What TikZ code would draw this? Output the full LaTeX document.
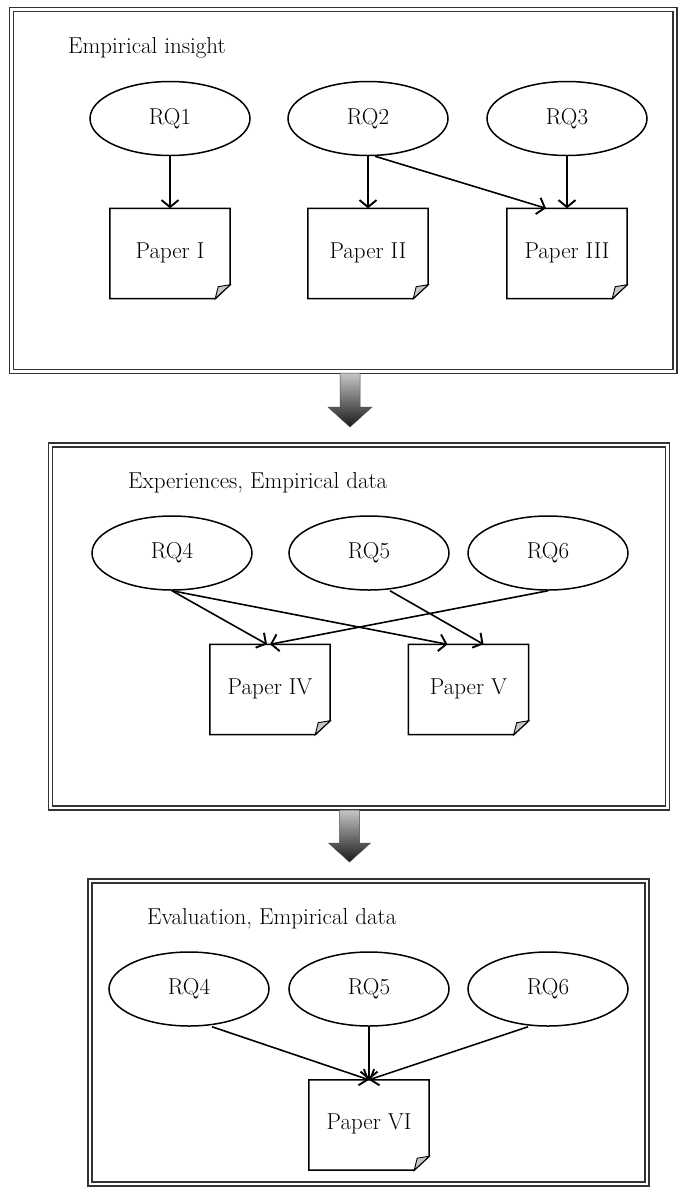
\documentclass[tikz,border=0pt]{standalone}
\usetikzlibrary{arrows.meta,shapes.geometric}

\tikzset{
  frame/.style={draw=black!80, line width=1.4pt, double, double distance=2.6pt},
  rq/.style={ellipse, draw, line width=1.5pt, minimum width=160pt, minimum height=74pt,
    inner sep=0pt, font=\fontsize{23}{27}\selectfont},
  paper/.style={rectangle, minimum width=120pt, minimum height=90pt, inner sep=0pt,
    font=\fontsize{23}{27}\selectfont},
  paperline/.style={line width=1.5pt},
  fold/.style={fill=gray!45, line width=0.9pt},
  link/.style={line width=1.6pt, -{Straight Barb[length=7pt,width=17pt,line width=1.9pt]}},
  title/.style={anchor=base west, inner sep=0pt, font=\fontsize{23}{27}\selectfont},
  blockarrow/.style={draw=black!70, line width=0.5pt, top color=gray!45, bottom color=black!90}
}

% outline of a paper with the folded corner
\newcommand{\drawpaper}[1]{%
  \draw[paperline] (#1.north west) -- (#1.north east) -- ([yshift=14pt]#1.south east)
    -- ([xshift=-15pt]#1.south east) -- (#1.south west) -- cycle;
  \filldraw[fold] ([xshift=-15pt]#1.south east) -- ([yshift=14pt]#1.south east)
    -- ([xshift=-12pt,yshift=12pt]#1.south east) -- cycle;
}

\begin{document}
\begin{tikzpicture}[x=1pt, y=-1pt]
    \useasboundingbox (0,0) rectangle (679,1187);

    \def\wshaft{10};
    \def\whead{21};

% frames

    \draw[frame] (11.5,9.5) rectangle (675,371.5);
    \draw[frame] (50.5,445) rectangle (667.5,808);
    \draw[frame] (90,881) rectangle (647,1184);

% block arrows between the frames

    \coordinate (ga) at (350,373);
    \coordinate (gb) at (349.5,810);

    \path[blockarrow] ([xshift=-\wshaft pt]ga) -- ++(0,34) -- ++(-12,0) -- ++(\whead+1,20)
        -- ++(\whead+1,-20) -- ++(-12,0) -- ++(0,-34) -- cycle;
    \path[blockarrow] ([xshift=-\wshaft pt]gb) -- ++(0,33) -- ++(-11,0) -- ++(\whead,19)
        -- ++(\whead,-19) -- ++(-11,0) -- ++(0,-33) -- cycle;

% empirical insight

    \node[title] (t1) at (68,53) {Empirical insight};

    \node[rq] (rq1) at (170,118.5) {RQ1};
    \node[rq] (rq2) at (368,118.5) {RQ2};
    \node[rq] (rq3) at (567,118.5) {RQ3};

    \node[paper] (p1) at (170,253.5) {\raisebox{6pt}{Paper I}};
    \node[paper] (p2) at (368,253.5) {\raisebox{6pt}{Paper II}};
    \node[paper] (p3) at (567,253.5) {\raisebox{6pt}{Paper III}};
    \drawpaper{p1}
    \drawpaper{p2}
    \drawpaper{p3}

    \draw[link] (rq1.south) -- (p1.north);
    \draw[link] (rq2.south) -- (p2.north);
    \draw[link] ([xshift=7pt]rq2.south) -- ([xshift=-21pt]p3.north);
    \draw[link] (rq3.south) -- (p3.north);

% experiences, empirical data

    \node[title] (t2) at (128,488) {Experiences, Empirical data};

    \node[rq] (rq4) at (172,553) {RQ4};
    \node[rq] (rq5) at (369,553) {RQ5};
    \node[rq] (rq6) at (548,553) {RQ6};

    \node[paper] (p4) at (270,689.5) {\raisebox{6pt}{Paper IV}};
    \node[paper] (p5) at (468.5,689.5) {\raisebox{6pt}{Paper V}};
    \drawpaper{p4}
    \drawpaper{p5}

    \draw[link] (rq4.south) -- ([xshift=-3pt]p4.north);
    \draw[link] (rq4.south) -- ([xshift=-21pt]p5.north);
    \draw[link] ([xshift=21pt]rq5.south) -- ([xshift=15pt]p5.north);
    \draw[link] (rq6.south) -- (p4.north);

% evaluation, empirical data

    \node[title] (t3) at (147,924) {Evaluation, Empirical data};

    \node[rq] (rq7) at (189,989) {RQ4};
    \node[rq] (rq8) at (369,989) {RQ5};
    \node[rq] (rq9) at (548,989) {RQ6};

    \node[paper] (p6) at (369,1125) {\raisebox{6pt}{Paper VI}};
    \drawpaper{p6}

    \draw[link] ([xshift=23pt]rq7.south) -- (p6.north);
    \draw[link] (rq8.south) -- (p6.north);
    \draw[link] ([xshift=-20pt]rq9.south) -- (p6.north);

\end{tikzpicture}
\end{document}
